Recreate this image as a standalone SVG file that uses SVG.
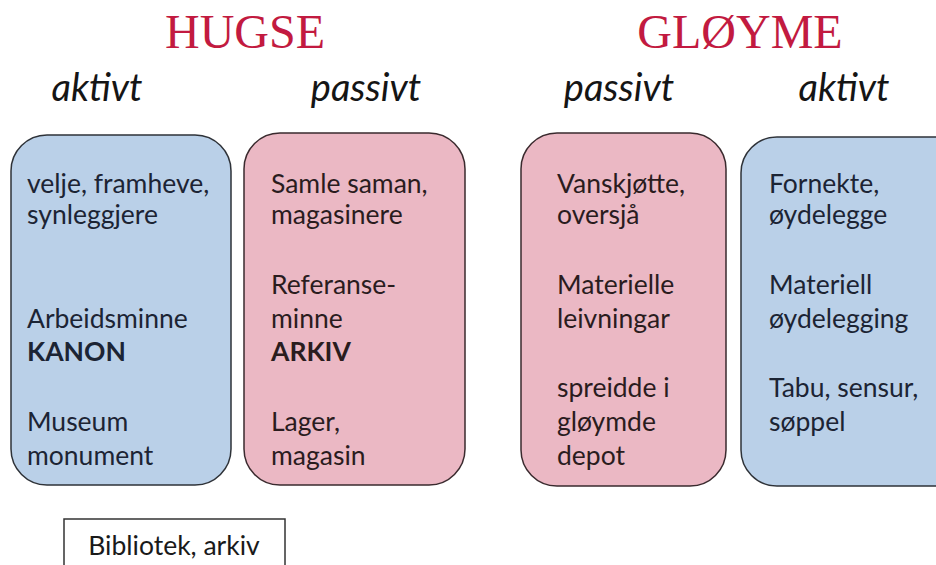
<svg xmlns="http://www.w3.org/2000/svg" width="936" height="565" viewBox="0 0 936 565">
<style>
.title{font-family:"Liberation Serif","Times New Roman",serif;font-size:48px;fill:#c21a40;text-anchor:middle}
.mode{font-family:Lato,"Open Sans",sans-serif;font-style:italic;font-size:38px;fill:#151515;text-anchor:middle}
.t{font-family:Lato,"Open Sans",sans-serif;font-size:26.5px}
.b{font-weight:bold}
.blue{fill:#bad0e8;stroke:#2e3238;stroke-width:1.5}
.pink{fill:#ebb8c4;stroke:#3a2a2e;stroke-width:1.5}
.tb{fill:#1c2434}
.tp{fill:#2a1c1e}
</style>
<rect width="936" height="565" fill="#ffffff"/>
<g id="headings">
<text class="title" x="245" y="48">HUGSE</text>
<text class="title" x="740" y="48">GLØYME</text>
<text class="mode" x="97" y="101">aktivt</text>
<text class="mode" x="366" y="101">passivt</text>
<text class="mode" x="619" y="101">passivt</text>
<text class="mode" x="844" y="101">aktivt</text>
</g>
<g id="hugse-aktivt">
<rect class="blue" x="11" y="135" width="220" height="350" rx="36"/>
<text class="t tb" x="27" y="193">velje, framheve,</text>
<text class="t tb" x="27" y="224">synleggjere</text>
<text class="t tb" x="27" y="328">Arbeidsminne</text>
<text class="t tb b" x="27" y="361">KANON</text>
<text class="t tb" x="27" y="431">Museum</text>
<text class="t tb" x="27" y="465">monument</text>
</g>
<g id="hugse-passivt">
<rect class="pink" x="244" y="133" width="221" height="352" rx="36"/>
<text class="t tp" x="271" y="193">Samle saman,</text>
<text class="t tp" x="271" y="224">magasinere</text>
<text class="t tp" x="271" y="294">Referanse-</text>
<text class="t tp" x="271" y="328">minne</text>
<text class="t tp b" x="271" y="361">ARKIV</text>
<text class="t tp" x="271" y="431">Lager,</text>
<text class="t tp" x="271" y="465">magasin</text>
</g>
<g id="gloyme-passivt">
<rect class="pink" x="521" y="133" width="205" height="353" rx="36"/>
<text class="t tp" x="557" y="193">Vanskjøtte,</text>
<text class="t tp" x="557" y="224">oversjå</text>
<text class="t tp" x="557" y="294">Materielle</text>
<text class="t tp" x="557" y="328">leivningar</text>
<text class="t tp" x="557" y="397">spreidde i</text>
<text class="t tp" x="557" y="431">gløymde</text>
<text class="t tp" x="557" y="465">depot</text>
</g>
<g id="gloyme-aktivt">
<rect class="blue" x="741" y="137" width="230" height="349" rx="36"/>
<text class="t tb" x="769" y="193">Fornekte,</text>
<text class="t tb" x="769" y="224">øydelegge</text>
<text class="t tb" x="769" y="294">Materiell</text>
<text class="t tb" x="769" y="328">øydelegging</text>
<text class="t tb" x="769" y="397">Tabu, sensur,</text>
<text class="t tb" x="769" y="431">søppel</text>
</g>
<g id="bibliotek">
<rect x="64" y="519" width="221" height="60" fill="#ffffff" stroke="#333333" stroke-width="1.5"/>
<text class="t" x="174" y="555" text-anchor="middle" fill="#1a1a1a">Bibliotek, arkiv</text>
</g>
<g id="connectors"/>
</svg>
